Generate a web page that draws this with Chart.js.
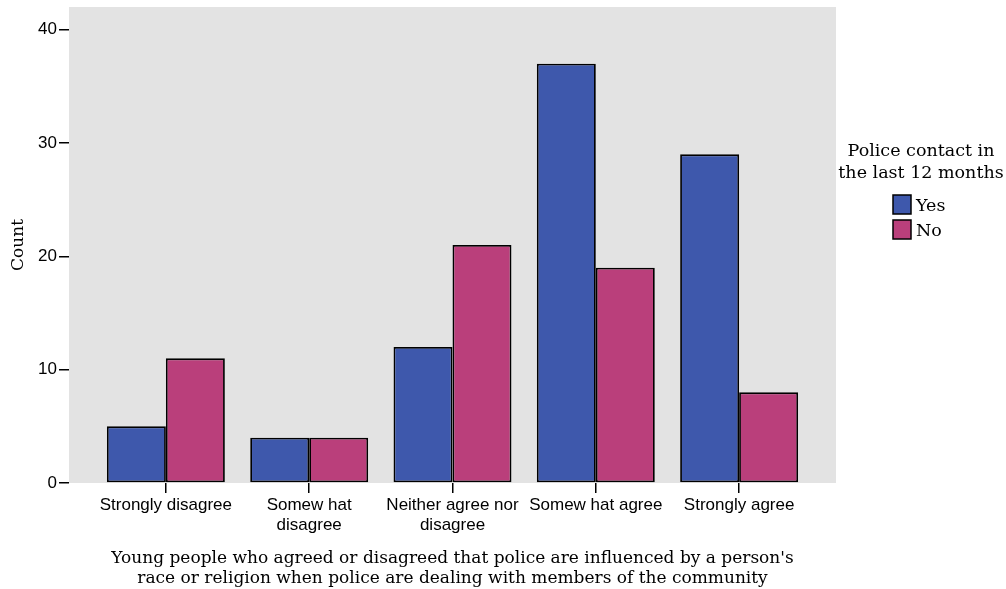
<!DOCTYPE html>
<html>
<head>
<meta charset="utf-8">
<script src="https://cdn.jsdelivr.net/npm/chart.js@4"></script>
<style>
  html, body { margin: 0; padding: 0; background: #fff; }
  #wrap { width: 1006px; height: 589px; position: relative; }
</style>
</head>
<body>
<div id="wrap"><canvas id="chart"></canvas></div>
<script>
const categories = [
    "Strongly disagree",
    ["Somew hat", "disagree"],
    ["Neither agree nor", "disagree"],
    "Somew hat agree",
    "Strongly agree"
];
const seriesNames = ["Yes", "No"];
const yesValues = [5, 4, 12, 37, 29];
const noValues = [11, 4, 21, 19, 8];
const yTicks = [0, 10, 20, 30, 40];
const xTitle = [
    "Young people who agreed or disagreed that police are influenced by a person's",
    "race or religion when police are dealing with members of the community"
];
const legendTitle = ["Police contact in", "the last 12 months"];

const colors = ["#3E58AC", "#BA3F7B"];
const serif = "'DejaVu Serif', 'Liberation Serif', serif";
const sans = "'Liberation Sans', Arial, sans-serif";
const edgeGap = 0.676; // extra room at both ends of the category axis

// grey plot background
const plotBg = {
    id: "plotBg",
    beforeDraw(chart) {
        const { ctx, chartArea: a } = chart;
        ctx.save();
        ctx.fillStyle = "#E3E3E3";
        ctx.fillRect(a.left, a.top, a.right - a.left, a.bottom - a.top);
        ctx.restore();
    }
};

// legend drawn at the right, with two-line title
const sideLegend = {
    id: "sideLegend",
    afterDraw(chart) {
        const ctx = chart.ctx;
        const cx = 921;
        ctx.save();
        ctx.fillStyle = "#000";
        ctx.font = "17.5px " + serif;
        ctx.textAlign = "center";
        ctx.textBaseline = "middle";
        legendTitle.forEach((t, i) => ctx.fillText(t, cx, 151 + i * 22));
        ctx.textAlign = "left";
        chart.data.datasets.forEach((ds, i) => {
            const y = 195 + i * 25;
            ctx.fillStyle = ds.backgroundColor;
            ctx.fillRect(893, y, 18, 19);
            ctx.lineWidth = 1.5;
            ctx.strokeStyle = "#000";
            ctx.strokeRect(893, y, 18, 19);
            ctx.fillStyle = "#000";
            ctx.fillText(ds.label, 916, y + 11);
        });
        ctx.restore();
    }
};

new Chart(document.getElementById("chart"), {
    type: "bar",
    data: {
        labels: categories,
        datasets: [
            { label: seriesNames[0], data: yesValues, backgroundColor: colors[0] },
            { label: seriesNames[1], data: noValues, backgroundColor: colors[1] }
        ]
    },
    options: {
        responsive: true,
        maintainAspectRatio: false,
        animation: false,
        layout: { padding: { top: 7, right: 170, left: 0, bottom: 0 } },
        datasets: {
            bar: {
                categoryPercentage: 0.823,
                barPercentage: 1,
                borderColor: "#000",
                borderWidth: 1.8,
                borderSkipped: false
            }
        },
        plugins: {
            legend: { display: false },
            tooltip: { enabled: false }
        },
        scales: {
            x: {
                afterBuildTicks(axis) {
                    axis._startValue = -edgeGap;
                    axis._valueRange = categories.length - 1 + 2 * edgeGap;
                },
                grid: {
                    offset: false,
                    drawOnChartArea: false,
                    drawTicks: true,
                    tickLength: 10,
                    color: "#000",
                    lineWidth: 1.5
                },
                border: { display: false },
                ticks: {
                    color: "#000",
                    font: { family: sans, size: 17 },
                    padding: 2,
                    maxRotation: 0,
                    autoSkip: false
                },
                title: {
                    display: true,
                    text: xTitle,
                    color: "#000",
                    font: { family: serif, size: 17, lineHeight: 1.2 },
                    padding: { top: 12, bottom: 0 }
                },
                afterFit(scale) {
                    scale.height = 106;
                    scale.paddingLeft = 0;
                    scale.paddingRight = 0;
                }
            },
            y: {
                min: 0,
                max: 42,
                afterBuildTicks(axis) { axis.ticks = yTicks.map(v => ({ value: v })); },
                grid: {
                    drawOnChartArea: false,
                    drawTicks: true,
                    tickLength: 10,
                    color: "#000",
                    lineWidth: 1.5
                },
                border: { display: false },
                ticks: {
                    color: "#000",
                    font: { family: sans, size: 17 },
                    padding: 2
                },
                title: {
                    display: true,
                    text: "Count",
                    color: "#000",
                    font: { family: serif, size: 17 },
                    padding: { top: 8, bottom: 0 }
                },
                afterFit(scale) {
                    scale.width = 69;
                    scale.paddingTop = 0;
                    scale.paddingBottom = 0;
                }
            }
        }
    },
    plugins: [plotBg, sideLegend]
});
</script>
</body>
</html>
